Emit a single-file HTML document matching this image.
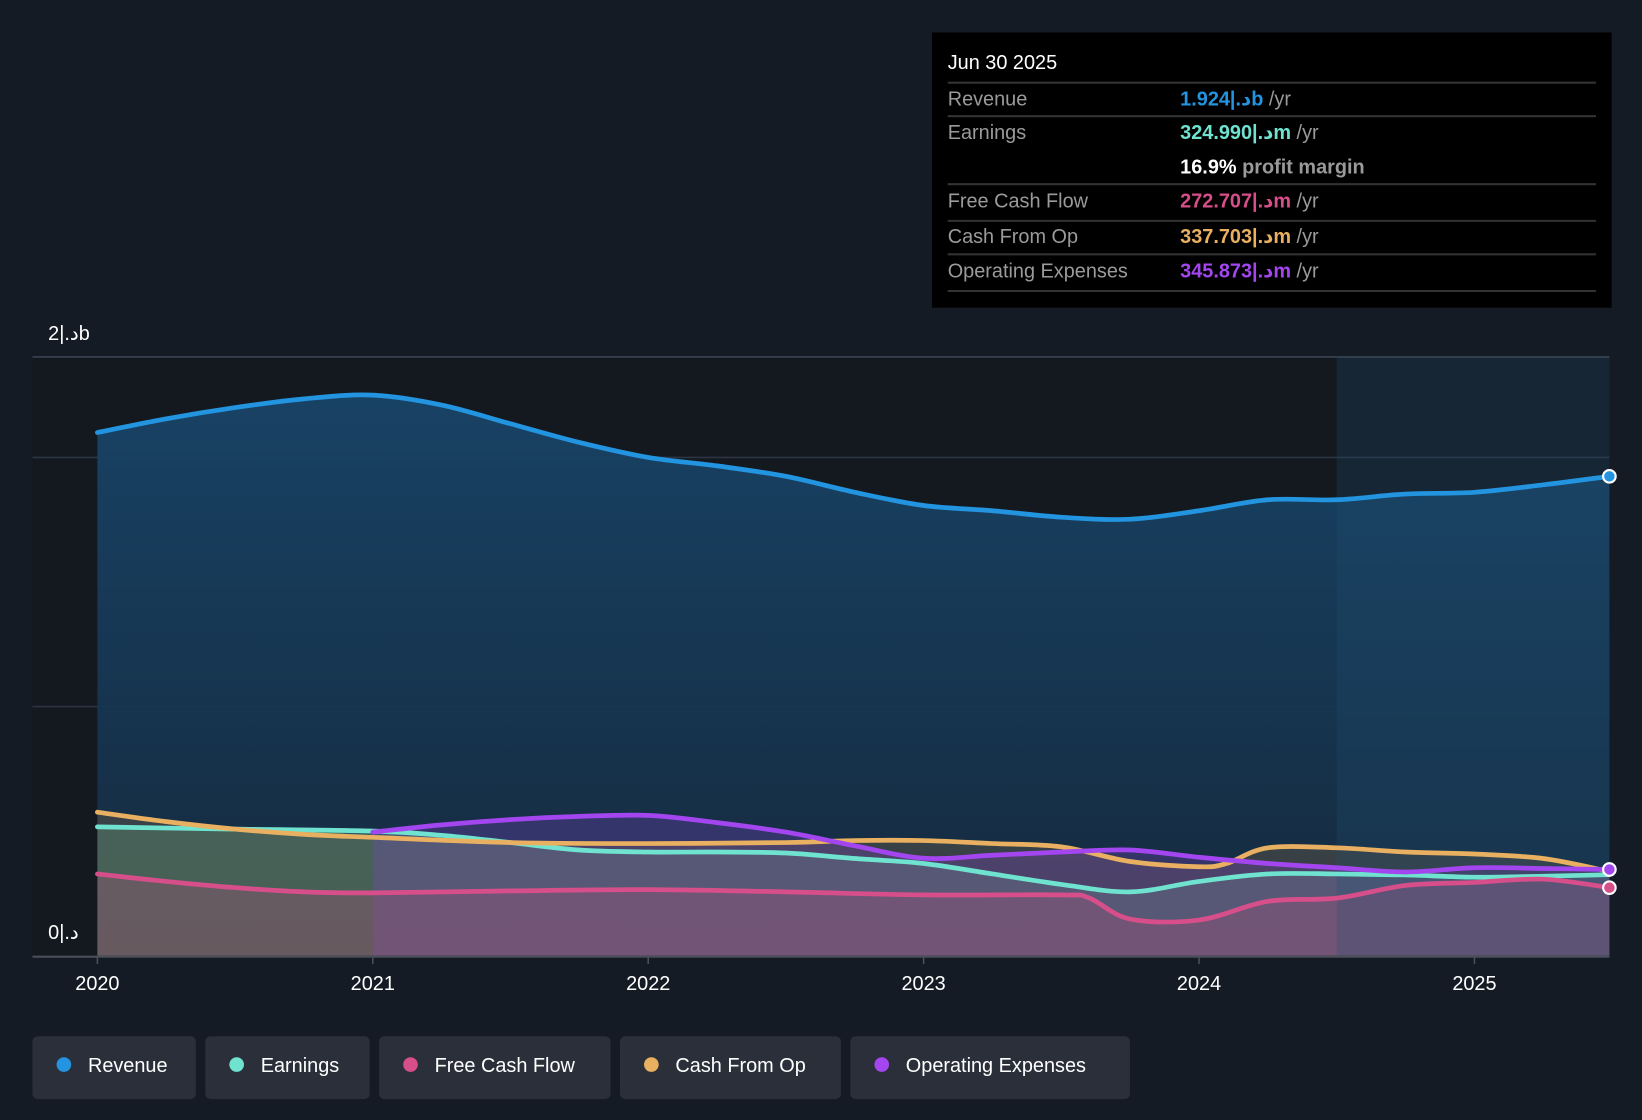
<!DOCTYPE html>
<html><head><meta charset="utf-8"><style>
html,body{margin:0;padding:0;background:#151b24;}
svg{display:block;font-family:"Liberation Sans","DejaVu Sans",sans-serif;}
</style></head><body>
<svg id="chart" width="1642" height="1120" viewBox="0 0 1568 1070" preserveAspectRatio="none" xmlns="http://www.w3.org/2000/svg">
<defs><linearGradient id="revGrad" x1="0" y1="0" x2="0" y2="1"><stop offset="0" stop-color="#184468"/><stop offset="1" stop-color="#152a3e"/></linearGradient></defs>
<rect x="0" y="0" width="1568" height="1070" fill="#151b24"/>
<rect x="31" y="341" width="1506" height="572" fill="#141920"/>
<g id="grid"></g>
<g id="areas"></g>
<rect id="future" y="341" height="572" fill="#1f4f73" opacity="0.25"/>
<g id="lines"></g>
<g id="axis"></g>
<text x="46" y="325" fill="#fff" font-size="19">2|.دb</text>
<text x="46" y="897" fill="#fff" font-size="19">0|.د</text>
<g>
<rect x="890" y="31" width="649" height="263" fill="#000"/>
<text x="905" y="66" fill="#fff" font-size="19">Jun 30 2025</text>
<g stroke="#333" stroke-width="2">
<line x1="905" y1="79" x2="1524" y2="79"/><line x1="905" y1="111" x2="1524" y2="111"/>
<line x1="905" y1="176" x2="1524" y2="176"/><line x1="905" y1="211" x2="1524" y2="211"/>
<line x1="905" y1="243" x2="1524" y2="243"/><line x1="905" y1="278" x2="1524" y2="278"/></g>
<g font-size="19" fill="#9a9a9a">
<text x="905" y="101">Revenue</text><text x="905" y="133">Earnings</text>
<text x="905" y="198">Free Cash Flow</text><text x="905" y="232">Cash From Op</text>
<text x="905" y="265">Operating Expenses</text></g>
<g font-size="19" font-weight="bold">
<text x="1127" y="101" fill="#2394df">1.924|.دb <tspan fill="#9a9a9a" font-weight="normal">/yr</tspan></text>
<text x="1127" y="133" fill="#6fe3cf">324.990|.دm <tspan fill="#9a9a9a" font-weight="normal">/yr</tspan></text>
<text x="1127" y="166" fill="#fff">16.9% <tspan fill="#9a9a9a">profit margin</tspan></text>
<text x="1127" y="198" fill="#d64f8a">272.707|.دm <tspan fill="#9a9a9a" font-weight="normal">/yr</tspan></text>
<text x="1127" y="232" fill="#e8b060">337.703|.دm <tspan fill="#9a9a9a" font-weight="normal">/yr</tspan></text>
<text x="1127" y="265" fill="#a346f0">345.873|.دm <tspan fill="#9a9a9a" font-weight="normal">/yr</tspan></text>
</g></g>
<g id="legend"></g>
</svg>
<script>
const years=[2020,2021,2022,2023,2024,2025];
const revX=[2020,2020.25,2020.5,2020.75,2021,2021.25,2021.5,2021.75,2022,2022.25,2022.5,2022.75,2023,2023.25,2023.5,2023.75,2024,2024.25,2024.5,2024.75,2025,2025.25,2025.49];
const revenue=[2.10,2.155,2.20,2.235,2.25,2.21,2.135,2.06,2.0,1.966,1.924,1.86,1.807,1.786,1.76,1.752,1.786,1.83,1.83,1.853,1.86,1.89,1.924];
const earnX=[2020,2020.5,2021,2021.25,2021.5,2021.75,2022,2022.25,2022.5,2022.75,2023,2023.25,2023.5,2023.75,2024,2024.25,2024.5,2024.75,2025,2025.25,2025.49];
const earnings=[0.517,0.508,0.5,0.483,0.454,0.424,0.416,0.416,0.412,0.39,0.37,0.328,0.286,0.256,0.298,0.328,0.328,0.324,0.315,0.319,0.325];
const fcfX=[2020,2020.25,2020.5,2020.75,2021,2021.5,2022,2022.5,2023,2023.5,2023.6,2023.75,2024,2024.25,2024.5,2024.75,2025,2025.25,2025.49];
const fcf=[0.328,0.298,0.273,0.256,0.252,0.26,0.265,0.256,0.244,0.244,0.232,0.147,0.143,0.218,0.231,0.282,0.294,0.307,0.273];
const cfoX=[2020,2020.25,2020.5,2020.75,2021,2021.5,2022,2022.5,2022.75,2023,2023.25,2023.5,2023.75,2024,2024.1,2024.25,2024.5,2024.75,2025,2025.25,2025.49];
const cfo=[0.576,0.538,0.508,0.487,0.475,0.454,0.45,0.454,0.462,0.462,0.45,0.437,0.378,0.357,0.37,0.433,0.433,0.416,0.408,0.39,0.338];
const opxX=[2021,2021.25,2021.5,2021.75,2022,2022.25,2022.5,2022.75,2023,2023.25,2023.5,2023.75,2024,2024.25,2024.5,2024.75,2025,2025.25,2025.49];
const opex=[0.496,0.525,0.546,0.559,0.563,0.534,0.496,0.441,0.391,0.403,0.416,0.424,0.395,0.37,0.353,0.336,0.353,0.35,0.346];
const gridVals=[1,2];
const legendNames=["Revenue","Earnings","Free Cash Flow","Cash From Op","Operating Expenses"];
const legendColors=["#2394df","#6fe3cf","#d64f8a","#e8b060","#a346f0"];

const NS="http://www.w3.org/2000/svg";
const X=t=>93+(t-2020)*263;
const Y=v=>913-v*238;
function mk(tag,attrs,parent){const e=document.createElementNS(NS,tag);for(const k in attrs)e.setAttribute(k,attrs[k]);parent.appendChild(e);return e;}
function smooth(xs,vs){let p=[];for(let i=0;i<xs.length;i++)p.push([X(xs[i]),Y(vs[i])]);
 let d="M"+p[0][0]+","+p[0][1];
 for(let i=0;i<p.length-1;i++){const p0=p[i-1]||p[i],p1=p[i],p2=p[i+1],p3=p[i+2]||p2;
  d+=` C${p1[0]+(p2[0]-p0[0])/6},${p1[1]+(p2[1]-p0[1])/6} ${p2[0]-(p3[0]-p1[0])/6},${p2[1]-(p3[1]-p1[1])/6} ${p2[0]},${p2[1]}`;}
 return {d,first:p[0],last:p[p.length-1]};}
const grid=document.getElementById('grid');
gridVals.forEach(v=>{const l=mk('line',{x1:31,x2:1537,y1:Y(v),y2:Y(v),stroke:'#2b3440','stroke-width':1.5},grid);

});
const tl=mk('line',{x1:31,x2:1537,y1:341,y2:341,stroke:'#3a4350','stroke-width':1.5},grid);


const fr=document.getElementById('future');fr.setAttribute('x',X(2024.5));fr.setAttribute('width',1537-X(2024.5));
const series=[
 ["revenue",revX,revenue,"#2394df","url(#revGrad)",0.95],
 ["earnings",earnX,earnings,"#6fe3cf","#4fa98a",0.35],
 ["cash-from-op",cfoX,cfo,"#e8b060","#a37a4a",0.25],
 ["operating-expenses",opxX,opex,"#a346f0","#7a45c0",0.3],
 ["free-cash-flow",fcfX,fcf,"#d64f8a","#b04f7a",0.3]];
const areas=document.getElementById('areas'),lines=document.getElementById('lines');
series.forEach(s=>{const r=smooth(s[1],s[2]);
 const a=mk('path',{d:r.d+` L${r.last[0]},913 L${r.first[0]},913 Z`,fill:s[4],opacity:s[5]},areas);
 
 
});
[series[0],series[1],series[2],series[4],series[3]].forEach(s=>{const r=smooth(s[1],s[2]);
 const l=mk('path',{d:r.d,fill:'none',stroke:s[3],'stroke-width':4.5,'stroke-linecap':'round'},lines);
 
 
 if(s[0]!=="earnings"&&s[0]!=="cash-from-op"){const c=mk('circle',{cx:r.last[0],cy:r.last[1],r:6,fill:s[3],stroke:'#fff','stroke-width':2},lines);
 
 }
});
const ax=document.getElementById('axis');
const bl=mk('line',{x1:31,x2:1537,y1:914,y2:914,stroke:'#4a4f58','stroke-width':2},ax);


years.forEach(y=>{const t=mk('line',{x1:X(y),x2:X(y),y1:914,y2:921,stroke:'#4a4f58','stroke-width':1.5},ax);
 
 
 const tx=mk('text',{x:X(y),y:946,fill:'#fff','font-size':19,'text-anchor':'middle'},ax);tx.textContent=y;
 
 });
const lg=document.getElementById('legend');const widths=[156,157,221,211,267];let lx=31;
legendNames.forEach((n,i)=>{const g=mk('g',{},lg);
 
 
 mk('rect',{x:lx,y:990,width:widths[i],height:60,rx:5,fill:'#2a2f3a'},g);
 mk('circle',{cx:lx+30,cy:1017,r:7,fill:legendColors[i]},g);
 const t=mk('text',{x:lx+53,y:1024,fill:'#fff','font-size':19},g);t.textContent=n;
 lx+=widths[i]+9;});
</script>
</body></html>
